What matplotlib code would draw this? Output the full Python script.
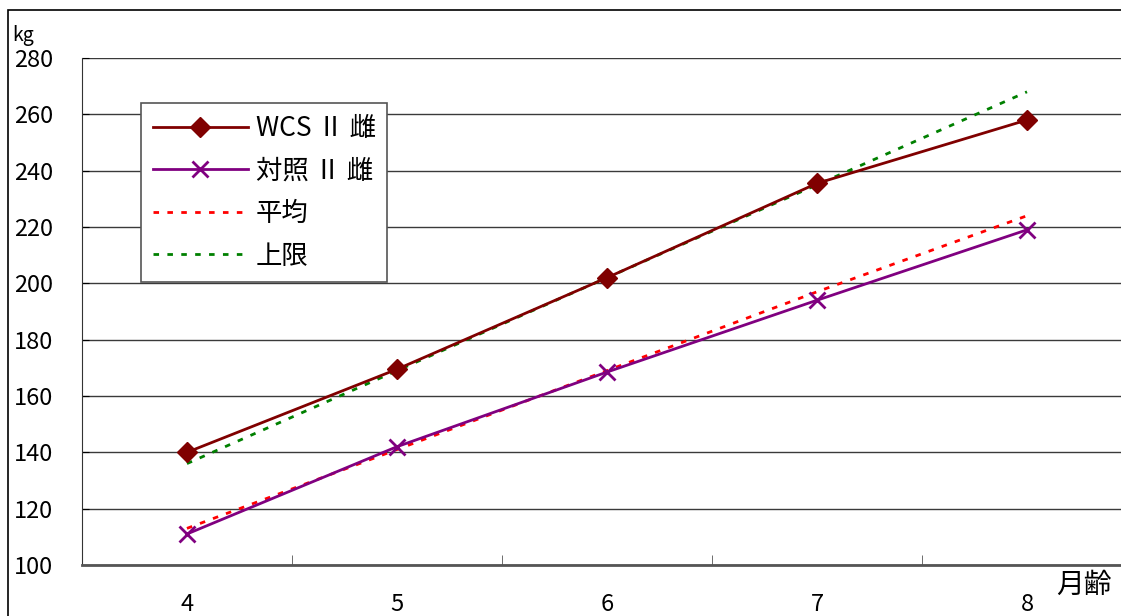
import matplotlib.pyplot as plt
from matplotlib.patches import Rectangle

plt.rcParams['font.family'] = ['Noto Sans CJK JP', 'DejaVu Sans']

# month of age and body weight (kg)
months = [4, 5, 6, 7, 8]
wcs_female = [140, 169.5, 202, 235.5, 258]
control_female = [111, 142, 168.5, 194, 219]
average = [113, 141, 169, 197, 224]
upper_limit = [136, 169, 202, 235, 268]

y_ticks = list(range(100, 281, 20))

fig = plt.figure(figsize=(11.21, 6.16), dpi=100)
ax = fig.add_axes([0.0731, 0.0828, 0.9367, 0.823])

# outer chart frame
fig.patches.append(Rectangle((8 / 1121, -0.1), 1.2, 1.1 - 10 / 616,
                             transform=fig.transFigure, fill=False,
                             edgecolor='black', linewidth=1.2))

ax.plot(months, upper_limit, color='#008000', linestyle=(0, (2, 3)),
        linewidth=2, label='上限', zorder=2)
ax.plot(months, average, color='#FF0000', linestyle=(0, (2, 3)),
        linewidth=2, label='平均', zorder=2)
ax.plot(months, control_female, color='#800080', linewidth=2,
        marker='x', markersize=12, markeredgewidth=2,
        label='対照 Ⅱ 雌', zorder=3)
ax.plot(months, wcs_female, color='#800000', linewidth=2,
        marker='D', markersize=10, label='WCS Ⅱ 雌', zorder=3)

ax.set_xlim(3.5, 8.5)
ax.set_ylim(100, 280)
ax.set_yticks(y_ticks)
ax.set_xticks(months)
ax.set_xticks([4.5, 5.5, 6.5, 7.5], minor=True)
ax.grid(axis='y', color='#3a3a3a', linewidth=1)
ax.set_axisbelow(True)

ax.spines['top'].set_visible(False)
ax.spines['right'].set_visible(False)
ax.spines['left'].set_color('#333333')
ax.spines['bottom'].set_color('#555555')
ax.spines['bottom'].set_linewidth(2)

ax.tick_params(axis='y', direction='in', length=5, pad=21, labelsize=17)
ax.tick_params(axis='x', which='major', length=0, pad=20, labelsize=17)
ax.tick_params(axis='x', which='minor', direction='in', length=7,
               color='#555555')

fig.text(12 / 1121, 1 - 36 / 616, 'kg', fontsize=14, va='center')
fig.text(1056 / 1121, 1 - 585 / 616, '月齢', fontsize=20, va='center')

handles, labels = ax.get_legend_handles_labels()
order = [3, 2, 1, 0]
leg = ax.legend([handles[i] for i in order], [labels[i] for i in order],
                loc='upper left', bbox_to_anchor=(0.056, 0.911),
                borderaxespad=0, fontsize=19, handlelength=3.6,
                handletextpad=0.3, labelspacing=0.59, numpoints=1,
                fancybox=False, framealpha=1, edgecolor='#555555',
                borderpad=0.45)
leg.get_frame().set_linewidth(1.2)

fig.savefig('out.png', dpi=100)
